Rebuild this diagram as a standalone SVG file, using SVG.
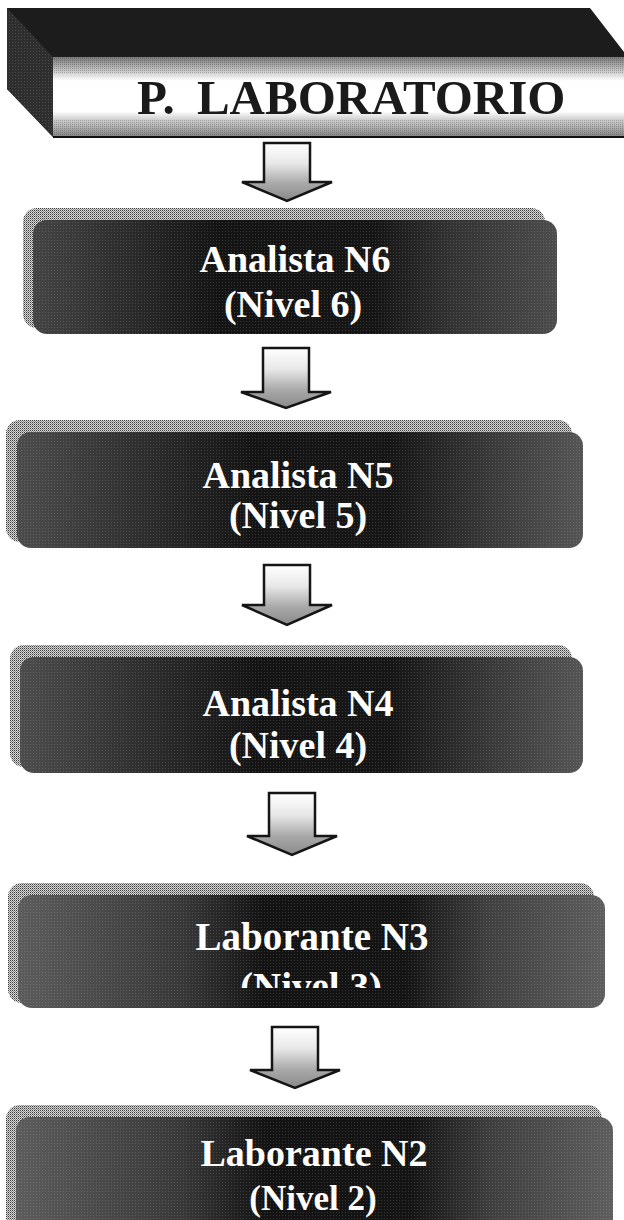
<svg xmlns="http://www.w3.org/2000/svg" width="624" height="1220" viewBox="0 0 624 1220">
<defs>
<style>
.lbl{font-family:"Liberation Serif","Times New Roman",serif;font-weight:bold;fill:#fff;text-anchor:middle}
.ttl{font-family:"Liberation Serif","Times New Roman",serif;font-weight:bold;fill:#1a1a1a;font-size:49px}
.arrow{stroke:#151515;stroke-width:2.5;stroke-linejoin:miter;fill:url(#arrowFill)}
.band{fill:url(#bandGrain)}
.speck{fill:url(#speck)}
</style>
<pattern id="speck" width="3" height="3" patternUnits="userSpaceOnUse"><rect width="1" height="1" fill="#ffffff" opacity="0.14"/></pattern>
<pattern id="bandGrain" width="2" height="2" patternUnits="userSpaceOnUse"><rect width="2" height="2" fill="#d8d8d8"/><rect width="1" height="1" fill="#3a3a3a"/><rect x="1" y="1" width="1" height="1" fill="#8a8a8a"/></pattern>
<pattern id="grainLight" width="2" height="2" patternUnits="userSpaceOnUse"><rect width="1" height="1" fill="#000" opacity="0.35"/></pattern>
<linearGradient id="face1" x1="0" y1="0" x2="1" y2="0">
<stop offset="0" stop-color="#444"/><stop offset="0.22" stop-color="#262626"/><stop offset="0.35" stop-color="#141414"/><stop offset="0.65" stop-color="#151515"/><stop offset="0.8" stop-color="#333"/><stop offset="1" stop-color="#4c4c4c"/>
</linearGradient>
<linearGradient id="face2" x1="0" y1="0" x2="1" y2="0">
<stop offset="0" stop-color="#4c4c4c"/><stop offset="0.25" stop-color="#2a2a2a"/><stop offset="0.42" stop-color="#141414"/><stop offset="0.66" stop-color="#161616"/><stop offset="0.85" stop-color="#3c3c3c"/><stop offset="1" stop-color="#555"/>
</linearGradient>
<linearGradient id="face3" x1="0" y1="0" x2="1" y2="0">
<stop offset="0" stop-color="#5c5c5c"/><stop offset="0.28" stop-color="#383838"/><stop offset="0.42" stop-color="#131313"/><stop offset="0.66" stop-color="#141414"/><stop offset="0.8" stop-color="#404040"/><stop offset="1" stop-color="#5e5e5e"/>
</linearGradient>
<linearGradient id="arrowFill" x1="0" y1="0" x2="0" y2="1">
<stop offset="0" stop-color="#ffffff"/><stop offset="0.35" stop-color="#e8e8e8"/><stop offset="0.7" stop-color="#a8a8a8"/><stop offset="1" stop-color="#8a8a8a"/>
</linearGradient>
<linearGradient id="hdrFace" x1="0" y1="0" x2="0" y2="1">
<stop offset="0" stop-color="#7a7a7a"/><stop offset="0.22" stop-color="#dcdcdc"/><stop offset="0.3" stop-color="#ffffff"/><stop offset="0.68" stop-color="#ffffff"/><stop offset="0.78" stop-color="#d0d0d0"/><stop offset="1" stop-color="#858585"/>
</linearGradient>
<clipPath id="clip4"><rect x="0" y="880" width="624" height="108"/></clipPath>
</defs>
<rect width="624" height="1220" fill="#ffffff"/>

<g id="header">
<polygon points="7,8 590,8 624,52 624,57 53,57 53,137 7,89" fill="#1c1c1c"/>
<polygon points="7,8 53,57 53,137 7,89" fill="#2e2e2e"/>
<polygon points="7,8 53,57 53,137 7,89" class="speck"/>
<rect x="53" y="57" width="571" height="80" fill="url(#hdrFace)"/>
<rect x="53" y="57" width="571" height="16" fill="url(#grainLight)" opacity="0.6"/>
<rect x="53" y="120" width="571" height="17" fill="url(#grainLight)" opacity="0.6"/>
<line x1="53" y1="137" x2="624" y2="137" stroke="#111" stroke-width="2"/>
<text class="ttl" x="137" y="114" word-spacing="10">P. LABORATORIO</text>
</g>

<g id="connectors">
<polygon class="arrow" points="264,143 310,143 310,182 332,182 287,201 242,182 264,182"/>
<polygon class="arrow" points="263,348 309,348 309,392 331,392 286,408 241,392 263,392"/>
<polygon class="arrow" points="264,565 310,565 310,605 332,605 287,625 242,605 264,605"/>
<polygon class="arrow" points="269,793 315,793 315,836 337,836 292,855 247,836 269,836"/>
<polygon class="arrow" points="272,1027 318,1027 318,1070 340,1070 295,1088 250,1070 272,1070"/>
</g>

<g id="node-n6">
<rect class="band" x="23" y="208" width="522" height="120" rx="14"/>
<rect x="33" y="220" width="524" height="114" rx="14" fill="url(#face1)"/>
<rect x="33" y="220" width="524" height="114" rx="14" class="speck"/>
<text class="lbl" x="295" y="272" font-size="38">Analista N6</text>
<text class="lbl" x="293" y="317" font-size="38">(Nivel 6)</text>
</g>

<g id="node-n5">
<rect class="band" x="6" y="420" width="566" height="122" rx="14"/>
<rect x="17" y="432" width="566" height="116" rx="14" fill="url(#face2)"/>
<rect x="17" y="432" width="566" height="116" rx="14" class="speck"/>
<text class="lbl" x="298" y="488" font-size="38">Analista N5</text>
<text class="lbl" x="298" y="528" font-size="38">(Nivel 5)</text>
</g>

<g id="node-n4">
<rect class="band" x="10" y="645" width="562" height="122" rx="14"/>
<rect x="20" y="657" width="563" height="116" rx="14" fill="url(#face2)"/>
<rect x="20" y="657" width="563" height="116" rx="14" class="speck"/>
<text class="lbl" x="298" y="716" font-size="38">Analista N4</text>
<text class="lbl" x="298" y="758" font-size="38">(Nivel 4)</text>
</g>

<g id="node-n3">
<rect class="band" x="8" y="883" width="586" height="120" rx="14"/>
<rect x="18" y="895" width="587" height="113" rx="14" fill="url(#face3)"/>
<rect x="18" y="895" width="587" height="113" rx="14" class="speck"/>
<text class="lbl" x="312" y="950" font-size="39">Laborante N3</text>
<text class="lbl" x="311" y="1000" font-size="39" clip-path="url(#clip4)">(Nivel 3)</text>
</g>

<g id="node-n2">
<rect class="band" x="6" y="1105" width="596" height="130" rx="14"/>
<rect x="16" y="1117" width="597" height="120" rx="14" fill="url(#face3)"/>
<rect x="16" y="1117" width="597" height="120" rx="14" class="speck"/>
<text class="lbl" x="314" y="1166" font-size="38">Laborante N2</text>
<text class="lbl" x="313" y="1210" font-size="35">(Nivel 2)</text>
</g>
</svg>
